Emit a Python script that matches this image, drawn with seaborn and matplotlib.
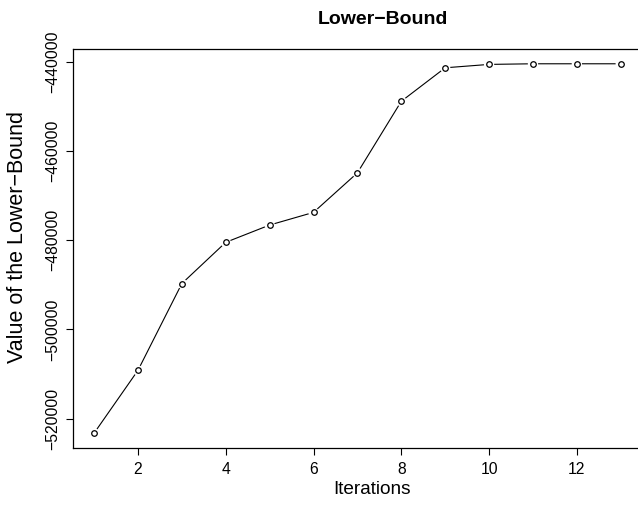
import numpy as np
import pandas as pd
import matplotlib
matplotlib.use("Agg")
import matplotlib.pyplot as plt
import seaborn as sns

iterations = [1, 2, 3, 4, 5, 6, 7, 8, 9, 10, 11, 12, 13]
lower_bound = [-523290, -509180, -489700, -480450, -476570, -473730, -464860,
               -448800, -441280, -440520, -440380, -440380, -440380]
y_ticks = [-520000, -500000, -480000, -460000, -440000]
x_ticks = [2, 4, 6, 8, 10, 12]

df = pd.DataFrame({"Iterations": iterations, "Value": lower_bound})

sns.set_style("ticks")
plt.rcParams["font.family"] = ["Liberation Sans", "DejaVu Sans"]
plt.rcParams["text.color"] = "black"
plt.rcParams["axes.labelcolor"] = "black"
plt.rcParams["xtick.color"] = "black"
plt.rcParams["ytick.color"] = "black"

W, H = 638, 505
fig = plt.figure(figsize=(W / 100, H / 100), dpi=100)
left, right, top, bottom = 73, 641.8, 49, 448
ax = fig.add_axes([left / W, 1 - bottom / H, (right - left) / W, (bottom - top) / H])

sns.lineplot(data=df, x="Iterations", y="Value", ax=ax, color="black",
             linewidth=0.8, zorder=2)
sns.scatterplot(data=df, x="Iterations", y="Value", ax=ax, marker="o", s=55,
                color="white", edgecolor="none", linewidth=0, zorder=3)
sns.scatterplot(data=df, x="Iterations", y="Value", ax=ax, marker="o", s=16,
                facecolor="white", edgecolor="black", linewidth=0.9, zorder=4)

xr = max(iterations) - min(iterations)
ax.set_xlim(min(iterations) - 0.04 * xr, max(iterations) + 0.04 * xr)
yr = max(lower_bound) - min(lower_bound)
ax.set_ylim(min(lower_bound) - 0.04 * yr, max(lower_bound) + 0.04 * yr)

ax.set_xticks(x_ticks)
ax.set_xticklabels([str(t) for t in x_ticks])
ax.set_yticks(y_ticks)
ax.set_yticklabels([str(t).replace("-", "\u2212") for t in y_ticks],
                   rotation=90, va="center")
ax.tick_params(axis="both", direction="out", length=5, width=0.8,
               labelsize=11.3, color="black", labelcolor="black")
ax.tick_params(axis="x", pad=5)
ax.tick_params(axis="y", pad=4.5)
for s in ax.spines.values():
    s.set_visible(True)
    s.set_linewidth(0.9)
    s.set_color("black")

ax.set_xlabel("")
ax.set_ylabel("")

fig.text(382.5 / W, 1 - 20 / H, "Lower\u2212Bound", ha="center", va="center",
         fontsize=14, fontweight="bold", color="black")
fig.text(372 / W, 1 - 490 / H, "Iterations", ha="center", va="center",
         fontsize=13.7, color="black")
fig.text(18 / W, 1 - 237 / H, "Value of the Lower\u2212Bound", ha="center",
         va="center", rotation=90, fontsize=15.5, color="black")

fig.savefig("out.png", dpi=100)
